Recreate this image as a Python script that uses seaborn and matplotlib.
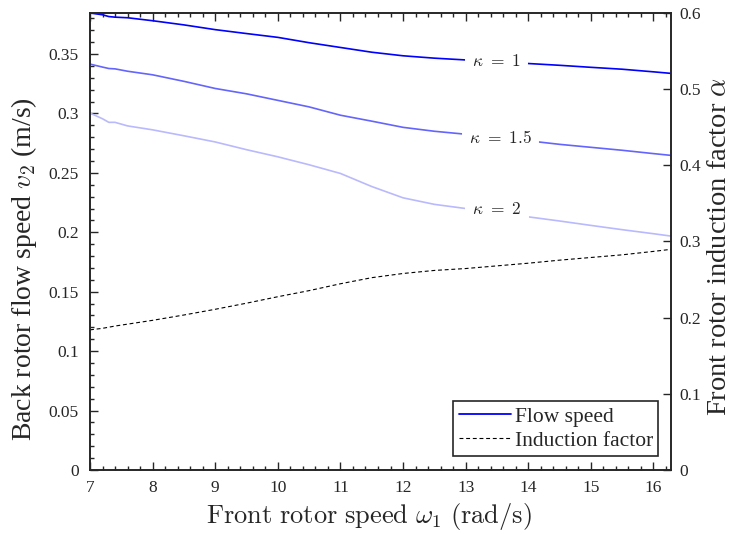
import numpy as np
import matplotlib
matplotlib.use("Agg")
import matplotlib.pyplot as plt
from matplotlib.ticker import MultipleLocator, FuncFormatter
from matplotlib.lines import Line2D
import seaborn as sns

# Front rotor speed samples (rad/s)
omega = [7.0, 7.2, 7.3, 7.4, 7.6, 8.0, 8.5, 9.0, 9.5, 10.0, 10.5, 11.0, 11.5,
         12.0, 12.5, 13.0, 13.5, 14.0, 14.5, 15.0, 15.5, 16.0, 16.28]

# Back rotor flow speed v2 (m/s) for each speed ratio kappa
v2_k1 = [0.3845, 0.3830, 0.3815, 0.3810, 0.3805, 0.3780, 0.3745, 0.3705, 0.3672,
         0.3640, 0.3595, 0.3555, 0.3515, 0.3485, 0.3465, 0.3450, 0.3435, 0.3420,
         0.3405, 0.3388, 0.3372, 0.3350, 0.3337]
v2_k15 = [0.3415, 0.3390, 0.3378, 0.3375, 0.3355, 0.3325, 0.3270, 0.3210, 0.3165,
          0.3110, 0.3055, 0.2985, 0.2935, 0.2883, 0.2850, 0.2825, 0.2792, 0.2770,
          0.2740, 0.2715, 0.2690, 0.2662, 0.2647]
v2_k2 = [0.3003, 0.2955, 0.2925, 0.2925, 0.2895, 0.2862, 0.2812, 0.2760, 0.2695,
         0.2635, 0.2568, 0.2495, 0.2385, 0.2290, 0.2235, 0.2200, 0.2187, 0.2130,
         0.2095, 0.2058, 0.2022, 0.1988, 0.1968]

# Front rotor induction factor alpha
alpha = [0.1840, 0.1860, 0.1875, 0.1890, 0.1915, 0.1965, 0.2035, 0.2110, 0.2190,
         0.2275, 0.2355, 0.2445, 0.2525, 0.2580, 0.2620, 0.2645, 0.2680, 0.2715,
         0.2755, 0.2790, 0.2825, 0.2870, 0.2897]

kappa_labels = [r"$\kappa\ =\ 1$", r"$\kappa\ =\ 1.5$", r"$\kappa\ =\ 2$"]
kappa_label_x = [13.5, 13.56, 13.5]
kappa_label_y = [0.3435, 0.2792, 0.2187]
kappa_colors = ["#0000ff", "#6464ff", "#b9b9ff"]

sns.set_style("white")
plt.rcParams["font.family"] = ["Liberation Serif", "DejaVu Serif"]
plt.rcParams["mathtext.fontset"] = "cm"

axis_color = "#262626"
fig = plt.figure(figsize=(7.33, 5.35), dpi=100)
ax = fig.add_axes([0.1228, 0.1215, 0.7926, 0.8542])
ax2 = ax.twinx()

for series, col in zip([v2_k1, v2_k15, v2_k2], kappa_colors):
    sns.lineplot(x=omega, y=series, ax=ax, color=col, linewidth=1.2,
                 legend=False, zorder=2)

for txt, tx, ty in zip(kappa_labels, kappa_label_x, kappa_label_y):
    ax.text(tx, ty, txt, fontsize=12.5, ha="center", va="center", color="#262626",
            zorder=5, bbox=dict(boxstyle="square,pad=0.4", fc="white", ec="none"))

sns.lineplot(x=omega, y=alpha, ax=ax2, color="black", linewidth=0.8,
             linestyle=(0, (3.5, 2.5)), legend=False)

ax.set_xlim(7, 16.28)
ax.set_ylim(0, 0.3845)
ax2.set_ylim(0, 0.6)

ax.xaxis.set_major_locator(MultipleLocator(1))
ax.xaxis.set_minor_locator(MultipleLocator(0.2))
ax.yaxis.set_major_locator(MultipleLocator(0.05))
ax.yaxis.set_minor_locator(MultipleLocator(0.01))
ax2.yaxis.set_major_locator(MultipleLocator(0.1))

ax.yaxis.set_major_formatter(FuncFormatter(
    lambda v, p: "0" if abs(v) < 1e-9 else f"{v:.2f}".rstrip("0")))
ax2.yaxis.set_major_formatter(FuncFormatter(
    lambda v, p: "0" if abs(v) < 1e-9 else f"{v:.1f}"))

ax.tick_params(axis="x", which="both", direction="in", top=True, bottom=True,
               labelsize=12.5, colors=axis_color, pad=7)
ax.tick_params(axis="x", which="major", length=6, width=1)
ax.tick_params(axis="x", which="minor", length=3, width=1)
ax.tick_params(axis="y", which="both", direction="in", left=True, right=False,
               labelsize=12.5, colors=axis_color, pad=8)
ax.tick_params(axis="y", which="major", length=6, width=1)
ax.tick_params(axis="y", which="minor", length=3, width=1)
ax2.tick_params(axis="y", which="major", direction="in", length=6, width=1,
                labelsize=12.5, colors=axis_color, pad=6)
ax2.tick_params(axis="y", which="minor", right=False)

for a in (ax, ax2):
    for s in a.spines.values():
        s.set_color(axis_color)
        s.set_linewidth(1.2)

ax.set_xlabel(r"$\mathrm{Front\ rotor\ speed}\ \omega_1\ \mathrm{(rad/s)}$",
              fontsize=19, color=axis_color)
ax.xaxis.set_label_coords(0.48, -0.068)
ax.set_ylabel(r"Back rotor flow speed $v_2$ (m/s)", fontsize=20,
              color=axis_color)
ax.yaxis.set_label_coords(-0.088, 0.44)
ax2.set_ylabel(r"Front rotor induction factor $\alpha$", fontsize=20.5,
               color=axis_color)
ax2.yaxis.set_label_coords(1.062, 0.49)

handles = [Line2D([], [], color=kappa_colors[0], linewidth=1.3),
           Line2D([], [], color="black", linewidth=0.8, linestyle=(0, (3.5, 2.5)))]
leg = ax2.legend(handles, ["Flow speed", "Induction factor"], loc="lower right",
                 bbox_to_anchor=(0.978, 0.03), fontsize=15.5, frameon=True,
                 fancybox=False, framealpha=1, edgecolor=axis_color,
                 handlelength=2.45, handletextpad=0.15, borderpad=0.25,
                 labelspacing=0.2, borderaxespad=0.0)
leg.get_frame().set_linewidth(1.2)
leg.set_zorder(10)

fig.savefig("out.png", dpi=100)
